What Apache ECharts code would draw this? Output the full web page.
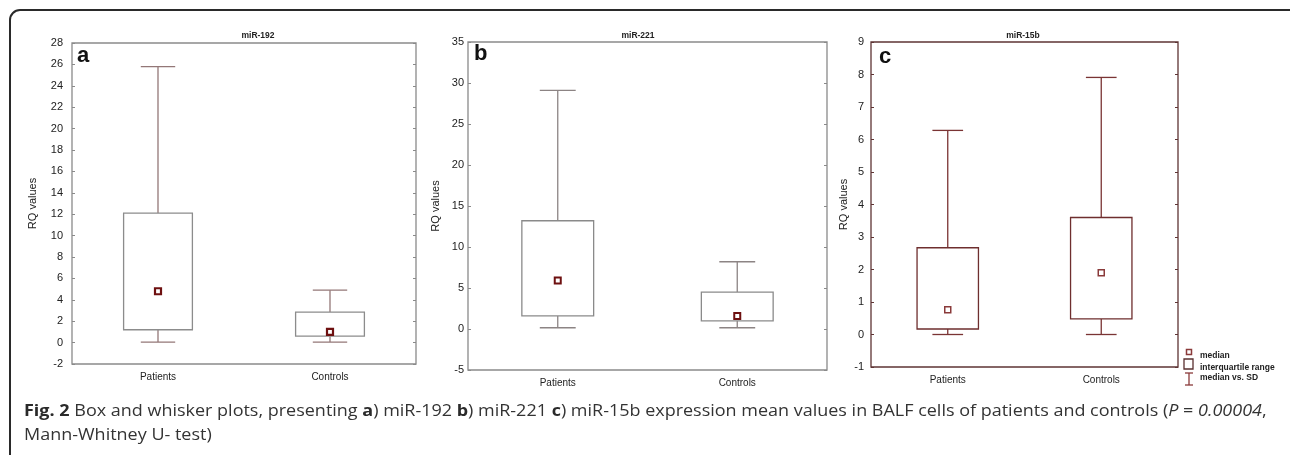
<!DOCTYPE html>
<html>
<head>
<meta charset="utf-8">
<script src="https://cdn.jsdelivr.net/npm/echarts@6/dist/echarts.min.js"></script>
<style>
  html, body { margin: 0; padding: 0; background: #fff; }
  #chart { width: 1290px; height: 455px; }
</style>
</head>
<body>
<div id="chart"></div>
<script>
// categorias comunes
const categories = ['Patients', 'Controls'];

// miR-192 (panel a)
const mir192Min = [0.05, 0.05];
const mir192Q1 = [1.2, 0.6];
const mir192Median = [4.8, 1.0];
const mir192Q3 = [12.1, 2.85];
const mir192Max = [25.8, 4.9];

// miR-221 (panel b)
const mir221Min = [0.15, 0.15];
const mir221Q1 = [1.6, 1.0];
const mir221Median = [5.9, 1.6];
const mir221Q3 = [13.2, 4.5];
const mir221Max = [29.1, 8.2];

// miR-15b (panel c)
const mir15bMin = [0, 0];
const mir15bQ1 = [0.17, 0.48];
const mir15bMedian = [0.76, 1.9];
const mir15bQ3 = [2.67, 3.6];
const mir15bMax = [6.28, 7.91];

// ejes
const yTicksA = { min: -2, max: 28, interval: 2 };
const yTicksB = { min: -5, max: 35, interval: 5 };
const yTicksC = { min: -1, max: 9, interval: 1 };

const chart = echarts.init(document.getElementById('chart'));

function boxRenderer(boxColor, whiskerColor) {
    return function(params, api) {
        const x = api.value(0);
        const lo = api.coord([x, api.value(1)]);
        const q1 = api.coord([x, api.value(2)]);
        const q3 = api.coord([x, api.value(3)]);
        const hi = api.coord([x, api.value(4)]);
        const band = api.size([1, 0])[0];
        const bw = band * 0.4;
        const cw = band * 0.2;
        const ws = { stroke: whiskerColor, lineWidth: 1.3, fill: null };
        return {
            type: 'group',
            children: [
                { type: 'line', shape: { x1: hi[0], y1: hi[1], x2: q3[0], y2: q3[1] }, style: ws },
                { type: 'line', shape: { x1: hi[0] - cw / 2, y1: hi[1], x2: hi[0] + cw / 2, y2: hi[1] }, style: ws },
                { type: 'line', shape: { x1: lo[0], y1: lo[1], x2: q1[0], y2: q1[1] }, style: ws },
                { type: 'line', shape: { x1: lo[0] - cw / 2, y1: lo[1], x2: lo[0] + cw / 2, y2: lo[1] }, style: ws },
                { type: 'rect', shape: { x: q3[0] - bw / 2, y: q3[1], width: bw, height: q1[1] - q3[1] },
                  style: { stroke: boxColor, lineWidth: 1.3, fill: '#fff' } }
            ]
        };
    };
}

function boxData(mins, q1s, q3s, maxs) {
    return categories.map((c, i) => [i, mins[i], q1s[i], q3s[i], maxs[i]]);
}

const panels = [
    { grid: { left: 72, top: 43, width: 344, height: 321 }, ticks: yTicksA, nameGap: 34, labelMargin: 9,
      frame: '#8a8a8a', box: '#8c8c8c', whisker: '#937777', med: '#6e1010', medBorder: 2.2,
      data: boxData(mir192Min, mir192Q1, mir192Q3, mir192Max), median: mir192Median },
    { grid: { left: 468, top: 42, width: 359, height: 328 }, ticks: yTicksB, nameGap: 27, labelMargin: 4,
      frame: '#8a8a8a', box: '#8a8a8a', whisker: '#8c8484', med: '#6e1010', medBorder: 2,
      data: boxData(mir221Min, mir221Q1, mir221Q3, mir221Max), median: mir221Median },
    { grid: { left: 871, top: 42, width: 307, height: 325 }, ticks: yTicksC, nameGap: 22, labelMargin: 7,
      frame: '#5e3434', box: '#6e2e2e', whisker: '#7a3434', med: '#8a3a3a', medBorder: 1.5,
      data: boxData(mir15bMin, mir15bQ1, mir15bQ3, mir15bMax), median: mir15bMedian }
];

const grids = [], xAxes = [], yAxes = [], series = [];
panels.forEach((p, i) => {
    grids.push(Object.assign({ show: true, borderColor: p.frame, borderWidth: 1.3, backgroundColor: '#fff' }, p.grid));
    xAxes.push({
        type: 'category', gridIndex: i, data: categories, position: 'bottom',
        axisLine: { show: false },
        axisTick: { alignWithLabel: true, length: 3, lineStyle: { color: p.frame } },
        axisLabel: { margin: 8, color: '#222', fontSize: 10, fontFamily: 'Liberation Sans' }
    });
    xAxes.push({
        type: 'category', gridIndex: i, data: categories, position: 'top',
        axisLine: { show: false },
        axisTick: { alignWithLabel: true, inside: true, length: 3, lineStyle: { color: p.frame } },
        axisLabel: { show: false }
    });
    yAxes.push({
        type: 'value', gridIndex: i, min: p.ticks.min, max: p.ticks.max, interval: p.ticks.interval,
        name: 'RQ values', nameLocation: 'middle', nameGap: p.nameGap,
        nameTextStyle: { color: '#222', fontSize: 11, fontFamily: 'Liberation Sans' },
        axisLine: { show: false },
        axisTick: { show: true, inside: true, length: 3, lineStyle: { color: p.frame } },
        splitLine: { show: false },
        axisLabel: { margin: p.labelMargin, color: '#222', fontSize: 11, fontFamily: 'Liberation Sans' }
    });
    yAxes.push({
        type: 'value', gridIndex: i, position: 'right', min: p.ticks.min, max: p.ticks.max, interval: p.ticks.interval,
        axisLine: { show: false },
        axisTick: { show: true, inside: true, length: 3, lineStyle: { color: p.frame } },
        splitLine: { show: false },
        axisLabel: { show: false }
    });
    series.push({
        type: 'custom', xAxisIndex: i * 2, yAxisIndex: i * 2,
        renderItem: boxRenderer(p.box, p.whisker),
        data: p.data, silent: true
    });
    series.push({
        type: 'scatter', xAxisIndex: i * 2, yAxisIndex: i * 2,
        symbol: 'rect', symbolSize: 6,
        itemStyle: { color: '#fff', borderColor: p.med, borderWidth: p.medBorder, opacity: 1 },
        data: categories.map((c, k) => [k, p.median[k]]), silent: true, z: 5
    });
});

const titleStyle = { fontSize: 8.5, fontWeight: 'bold', fill: '#222', fontFamily: 'Liberation Sans', align: 'center', verticalAlign: 'middle' };
const letterStyle = { fontSize: 22, fontWeight: 'bold', fill: '#111', fontFamily: 'Liberation Sans' };
const legendText = { fontSize: 8.5, fontWeight: 'bold', fill: '#222', fontFamily: 'Liberation Sans', verticalAlign: 'middle' };
const legendColor = '#8a3a3a';

const captionRich = {
    b: { fontFamily: 'Open Sans', fontSize: 15.5, fontWeight: 'bold', fill: '#2a2a2a' },
    i: { fontFamily: 'Open Sans', fontSize: 15.5, fontStyle: 'italic', fill: '#333' },
    n: { fontFamily: 'Open Sans', fontSize: 15.5, fill: '#333' }
};

chart.setOption({
    animation: false,
    backgroundColor: '#fff',
    grid: grids,
    xAxis: xAxes,
    yAxis: yAxes,
    series: series,
    graphic: [
        { type: 'rect', shape: { x: 10, y: 10, width: 1290, height: 520, r: 10 }, silent: true,
          style: { fill: null, stroke: '#2a2a2a', lineWidth: 2 }, z: 100 },
        { type: 'text', x: 258, y: 36, style: Object.assign({ text: 'miR-192' }, titleStyle), z: 100 },
        { type: 'text', x: 638, y: 36, style: Object.assign({ text: 'miR-221' }, titleStyle), z: 100 },
        { type: 'text', x: 1023, y: 36, style: Object.assign({ text: 'miR-15b' }, titleStyle), z: 100 },
        { type: 'text', left: 77, top: 45, style: Object.assign({ text: 'a' }, letterStyle), z: 100 },
        { type: 'text', left: 474, top: 43, style: Object.assign({ text: 'b' }, letterStyle), z: 100 },
        { type: 'text', left: 879, top: 46, style: Object.assign({ text: 'c' }, letterStyle), z: 100 },
        // leyenda
        { type: 'rect', shape: { x: 1186.5, y: 349.5, width: 5, height: 5 }, style: { fill: '#fff', stroke: legendColor, lineWidth: 1.5 }, z: 100 },
        { type: 'text', x: 1200, y: 356, style: Object.assign({ text: 'median' }, legendText), z: 100 },
        { type: 'rect', shape: { x: 1184, y: 359, width: 9, height: 10 }, style: { fill: '#fff', stroke: '#5a3030', lineWidth: 1.3 }, z: 100 },
        { type: 'text', x: 1200, y: 368, style: Object.assign({ text: 'interquartile range' }, legendText), z: 100 },
        { type: 'polyline', shape: { points: [[1185, 373], [1193, 373]] }, style: { stroke: legendColor, lineWidth: 1.3 }, z: 100 },
        { type: 'polyline', shape: { points: [[1189, 373], [1189, 385]] }, style: { stroke: legendColor, lineWidth: 1.3 }, z: 100 },
        { type: 'polyline', shape: { points: [[1185, 385], [1193, 385]] }, style: { stroke: legendColor, lineWidth: 1.3 }, z: 100 },
        { type: 'text', x: 1200, y: 378, style: Object.assign({ text: 'median vs. SD' }, legendText), z: 100 },
        // pie de figura
        { type: 'text', x: 24, y: 404, scaleX: 1.16, z: 100,
          style: { text: '{b|Fig. 2}{n| Box and whisker plots, presenting }{b|a}{n|) miR-192 }{b|b}{n|) miR-221 }{b|c}{n|) miR-15b expression mean values in BALF cells of patients and controls (}{i|P}{n| = }{i|0.00004}{n|,}', rich: captionRich } },
        { type: 'text', x: 24, y: 428, scaleX: 1.16, z: 100,
          style: { text: '{n|Mann-Whitney U- test)}', rich: captionRich } }
    ]
});
</script>
</body>
</html>
